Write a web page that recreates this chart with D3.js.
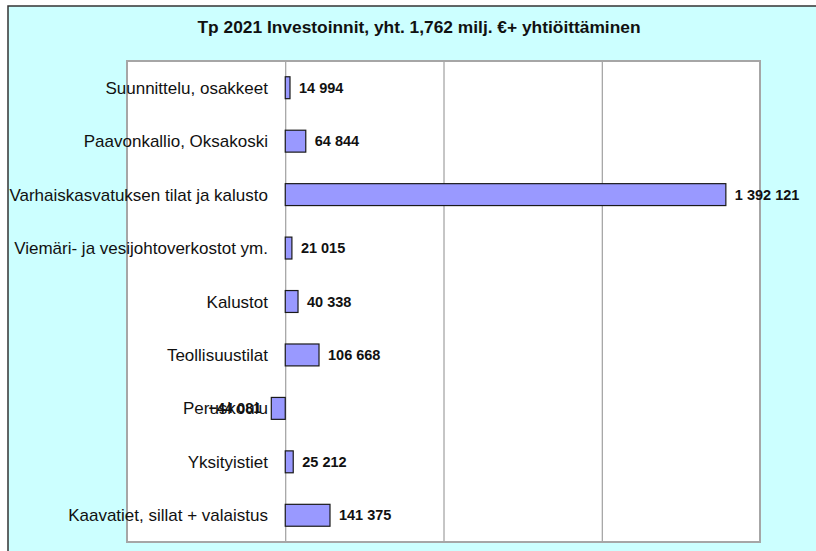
<!DOCTYPE html>
<html>
<head>
<meta charset="utf-8">
<script src="https://cdn.jsdelivr.net/npm/d3@7"></script>
<style>
  body { margin: 0; background: #fff; }
  text { font-family: "Liberation Sans", Arial, sans-serif; }
</style>
</head>
<body>
<div id="chart-area"></div>
<script>
// data
var categories = [
  'Suunnittelu, osakkeet',
  'Paavonkallio, Oksakoski',
  'Varhaiskasvatuksen tilat ja kalusto',
  'Viemäri- ja vesijohtoverkostot ym.',
  'Kalustot',
  'Teollisuustilat',
  'Peruskoulu',
  'Yksityistiet',
  'Kaavatiet, sillat + valaistus'
]
var values = [14994, 64844, 1392121, 21015, 40338, 106668, -44081, 25212, 141375]
var tickValues = [-500000, 0, 500000, 1000000, 1500000]
var title = 'Tp 2021 Investoinnit, yht. 1,762 milj. €+ yhtiöittäminen'

var W = 816
var H = 551
var plot = {left: 127, right: 760, top: 61, bottom: 542}

var svg = d3.select('#chart-area')
  .append('svg')
  .attr('width', W)
  .attr('height', H)

// outer chart area (frame runs off the right and bottom edge)
svg.append('rect')
  .attr('x', 8)
  .attr('y', 6)
  .attr('width', W + 20)
  .attr('height', H + 20)
  .attr('fill', '#ccffff')
  .attr('stroke', '#333')
  .attr('stroke-width', 1.5)

// title
svg.append('text')
  .attr('x', 419)
  .attr('y', 33)
  .attr('text-anchor', 'middle')
  .attr('font-size', '17px')
  .attr('font-weight', 'bold')
  .attr('fill', '#111')
  .attr('textLength', 443)
  .attr('lengthAdjust', 'spacingAndGlyphs')
  .text(title)

// scales
var x = d3.scaleLinear()
  .domain([tickValues[0], tickValues[tickValues.length - 1]])
  .range([plot.left, plot.right])

var y = d3.scaleBand()
  .domain(categories)
  .range([plot.top, plot.bottom])
  .paddingInner(0.59)
  .paddingOuter(0.295)

// plot area
svg.append('rect')
  .attr('x', plot.left)
  .attr('y', plot.top)
  .attr('width', plot.right - plot.left)
  .attr('height', plot.bottom - plot.top)
  .attr('fill', '#fff')

// vertical gridlines via axis with no labels
var grid = svg.append('g')
  .attr('transform', 'translate(0, ' + plot.bottom + ')')
  .call(d3.axisBottom(x)
    .tickValues(tickValues.slice(1, -1))
    .tickSize(-(plot.bottom - plot.top))
    .tickFormat(''))
grid.select('.domain').remove()
grid.selectAll('line').attr('stroke', '#8c8c8c')

// plot border
svg.append('rect')
  .attr('x', plot.left)
  .attr('y', plot.top)
  .attr('width', plot.right - plot.left)
  .attr('height', plot.bottom - plot.top)
  .attr('fill', 'none')
  .attr('stroke', '#a6a6a6')
  .attr('stroke-width', 2)

var rows = categories.map(function (c, i) { return {cat: c, value: values[i]} })

// category labels
svg.selectAll('.cat-label')
  .data(rows)
  .enter().append('text')
  .attr('class', 'cat-label')
  .attr('x', 268)
  .attr('y', function (d) { return y(d.cat) + y.bandwidth() / 2 + 6 })
  .attr('text-anchor', 'end')
  .attr('font-size', '17px')
  .attr('fill', '#111')
  .text(function (d) { return d.cat })

// bars
svg.selectAll('.bar')
  .data(rows)
  .enter().append('rect')
  .attr('class', 'bar')
  .attr('x', function (d) { return x(Math.min(0, d.value)) })
  .attr('y', function (d) { return y(d.cat) })
  .attr('width', function (d) { return Math.abs(x(d.value) - x(0)) })
  .attr('height', y.bandwidth())
  .attr('fill', '#9999ff')
  .attr('stroke', '#1a1a1a')
  .attr('stroke-width', 1.2)

// value labels, space as thousands separator
var fmt = function (v) { return d3.format(',')(v).replace(/,/g, ' ') }

svg.selectAll('.val-label')
  .data(rows)
  .enter().append('text')
  .attr('class', 'val-label')
  .attr('x', function (d) { return d.value < 0 ? x(d.value) - 10 : x(d.value) + 9 })
  .attr('y', function (d) { return y(d.cat) + y.bandwidth() / 2 + 5 })
  .attr('text-anchor', function (d) { return d.value < 0 ? 'end' : 'start' })
  .attr('font-size', '14.5px')
  .attr('font-weight', 'bold')
  .attr('fill', '#111')
  .text(function (d) { return fmt(d.value) })
</script>
</body>
</html>
